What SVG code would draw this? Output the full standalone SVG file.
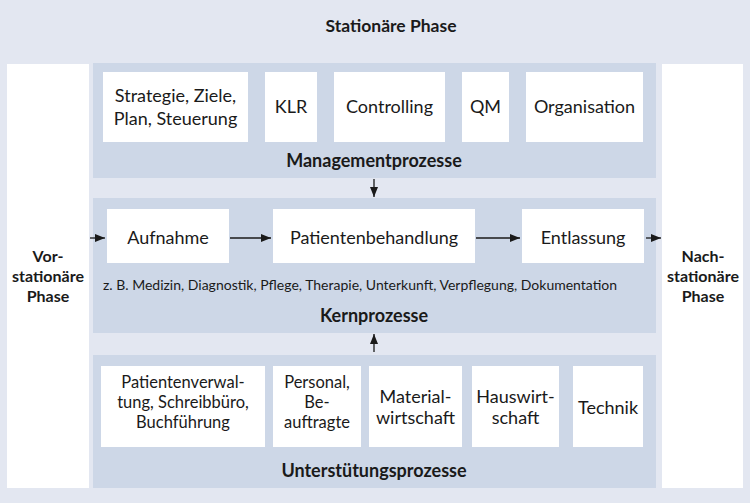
<svg xmlns="http://www.w3.org/2000/svg" width="750" height="503" viewBox="0 0 750 503">
<defs>
<style>
.bg{fill:#e3e7f1}
.band{fill:#cdd7e7}
.box{fill:#ffffff}
.t{font-family:Lato,"Open Sans","Liberation Sans",sans-serif;font-size:18px;fill:#1a1a1a;text-anchor:middle}
.t3{font-size:16.5px}
.s{font-family:Lato,"Open Sans","Liberation Sans",sans-serif;font-size:14px;fill:#1a1a1a}
.b{font-family:Lato,"Open Sans","Liberation Sans",sans-serif;font-size:18px;font-weight:bold;fill:#1a1a1a;text-anchor:middle}
.p{font-family:Lato,"Open Sans","Liberation Sans",sans-serif;font-size:16px;font-weight:bold;fill:#1a1a1a;text-anchor:middle}
.c{stroke:#1a1a1a;stroke-width:1.3;fill:none;marker-end:url(#ah)}
</style>
<marker id="ah" viewBox="0 0 10 8" refX="10" refY="4" markerWidth="10" markerHeight="8" markerUnits="userSpaceOnUse" orient="auto">
<path d="M0,0 L10,4 L0,8 Z" fill="#1a1a1a"/>
</marker>
</defs>
<rect class="bg" x="0" y="0" width="750" height="503"/>
<text class="b" x="391" y="32" style="font-size:17.5px">Stationäre Phase</text>

<g id="vorstationaer">
<rect class="box" x="7" y="64" width="82" height="424"/>
<text class="p" x="48" y="262">Vor-</text>
<text class="p" x="48" y="282">stationäre</text>
<text class="p" x="48" y="302">Phase</text>
</g>
<g id="nachstationaer">
<rect class="box" x="662" y="64" width="81" height="424"/>
<text class="p" x="703" y="262">Nach-</text>
<text class="p" x="703" y="282">stationäre</text>
<text class="p" x="703" y="302">Phase</text>
</g>

<g id="managementprozesse">
<rect class="band" x="93" y="63" width="563" height="115"/>
<text class="b" x="374" y="167">Managementprozesse</text>
</g>
<g id="strategie"><rect class="box" x="103" y="72" width="145" height="70"/>
<text class="t" x="175.5" y="102">Strategie, Ziele,</text><text class="t" x="175.5" y="125">Plan, Steuerung</text></g>
<g id="klr"><rect class="box" x="265" y="72" width="52" height="70"/><text class="t" x="291" y="113">KLR</text></g>
<g id="controlling"><rect class="box" x="334" y="72" width="111" height="70"/><text class="t" x="389.5" y="113">Controlling</text></g>
<g id="qm"><rect class="box" x="462" y="72" width="47" height="70"/><text class="t" x="485.5" y="113">QM</text></g>
<g id="organisation"><rect class="box" x="526" y="72" width="117" height="70"/><text class="t" x="584.5" y="113">Organisation</text></g>

<g id="kernprozesse">
<rect class="band" x="93" y="198" width="563" height="135"/>
<text class="s" x="103" y="290">z. B. Medizin, Diagnostik, Pflege, Therapie, Unterkunft, Verpflegung, Dokumentation</text>
<text class="b" x="374" y="322">Kernprozesse</text>
</g>
<g id="aufnahme"><rect class="box" x="107" y="209" width="122" height="54"/><text class="t" x="168" y="244">Aufnahme</text></g>
<g id="patientenbehandlung"><rect class="box" x="273" y="209" width="202" height="54"/><text class="t" x="374" y="244">Patientenbehandlung</text></g>
<g id="entlassung"><rect class="box" x="522" y="209" width="122" height="54"/><text class="t" x="583" y="244">Entlassung</text></g>

<g id="unterstuetzungsprozesse">
<rect class="band" x="93" y="355" width="563" height="133"/>
<text class="b" x="374" y="477">Unterstütungsprozesse</text>
</g>
<g id="patientenverwaltung"><rect class="box" x="101" y="366" width="164" height="81"/>
<text class="t t3" x="183" y="388">Patientenverwal-</text><text class="t t3" x="183" y="408">tung, Schreibbüro,</text><text class="t t3" x="183" y="428">Buchführung</text></g>
<g id="personal"><rect class="box" x="273" y="366" width="88" height="81"/>
<text class="t t3" x="317" y="388">Personal,</text><text class="t t3" x="317" y="408">Be-</text><text class="t t3" x="317" y="428">auftragte</text></g>
<g id="material"><rect class="box" x="369" y="366" width="93" height="81"/>
<text class="t" x="415.5" y="403">Material-</text><text class="t" x="415.5" y="424">wirtschaft</text></g>
<g id="hauswirtschaft"><rect class="box" x="472" y="366" width="87" height="81"/>
<text class="t" x="515.5" y="403">Hauswirt-</text><text class="t" x="515.5" y="424">schaft</text></g>
<g id="technik"><rect class="box" x="573" y="366" width="70" height="81"/><text class="t" x="608" y="414">Technik</text></g>

<g id="connectors">
<line class="c" x1="374" y1="179" x2="374" y2="197"/>
<line class="c" x1="374" y1="352" x2="374" y2="334"/>
<line class="c" x1="90" y1="238" x2="105" y2="238"/>
<line class="c" x1="230" y1="238" x2="271" y2="238"/>
<line class="c" x1="476" y1="238" x2="520" y2="238"/>
<line class="c" x1="646" y1="238" x2="661" y2="238"/>
</g>
</svg>
